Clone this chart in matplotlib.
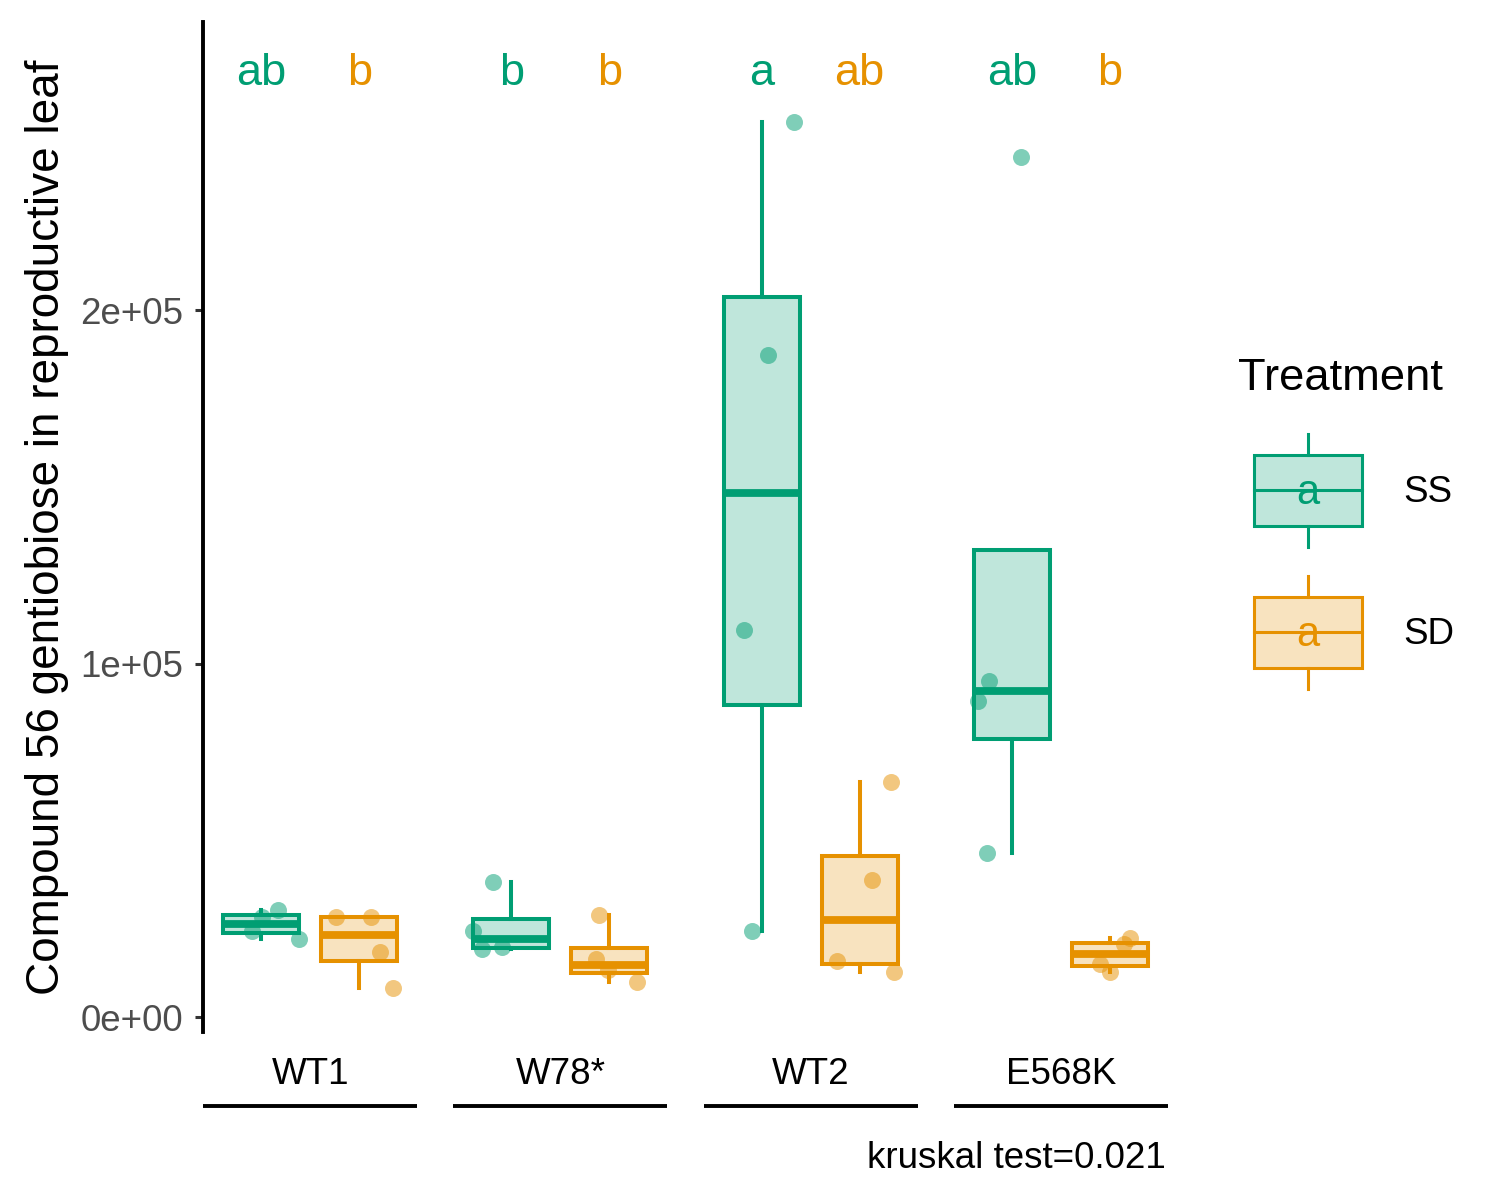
import matplotlib
matplotlib.use("Agg")
import matplotlib.pyplot as plt
import matplotlib.transforms as mtransforms
from matplotlib.colors import to_rgba
from matplotlib.patches import Rectangle

plt.rcParams['font.family'] = ['Liberation Sans', 'DejaVu Sans']

# data (4 plants per genotype x treatment)
genotypes = ['WT1', 'W78*', 'WT2', 'E568K']
treatments = ['SS', 'SD']
colors = {'SS': '#009E73', 'SD': '#E69100'}

ss_values = [
    [22065, 24215, 28260, 30270],
    [19151, 19717, 24328, 38274],
    [24328, 109476, 187270, 253182],
    [46393, 89392, 95049, 243281],
]
sd_values = [
    [8289, 18472, 28204, 28373],
    [9901, 13296, 16407, 28854],
    [12730, 15926, 38755, 66478],
    [12730, 14993, 20651, 22263],
]
# horizontal jitter of the points (fraction of group spacing)
ss_jitter = [
    [0.152, -0.036, 0.004, 0.068],
    [-0.116, -0.036, -0.152, -0.072],
    [-0.04, -0.072, 0.024, 0.128],
    [-0.1, -0.136, -0.092, 0.036],
]
sd_jitter = [
    [0.136, 0.084, -0.092, 0.048],
    [0.112, -0.004, -0.052, -0.04],
    [0.136, -0.092, 0.048, 0.124],
    [0.0, -0.04, 0.056, 0.08],
]
ss_letters = ['ab', 'b', 'a', 'ab']
sd_letters = ['b', 'b', 'ab', 'b']
letter_y = 2.67e5
kruskal_p = 0.021

values = {'SS': ss_values, 'SD': sd_values}
jitter = {'SS': ss_jitter, 'SD': sd_jitter}
letters = {'SS': ss_letters, 'SD': sd_letters}
dodge = {'SS': -0.196, 'SD': 0.196}
box_w = 0.304

fig = plt.figure(figsize=(15, 12), dpi=100)
ax = fig.add_axes([203 / 1500, 168 / 1200, 965 / 1500, 1010 / 1200])

groups = list(range(1, len(genotypes) + 1))
for t in treatments:
    c = colors[t]
    pos = [g + dodge[t] for g in groups]
    bp = ax.boxplot(values[t], positions=pos, widths=box_w, patch_artist=True,
                    showfliers=False, showcaps=False, whis=1.5,
                    boxprops=dict(facecolor=to_rgba(c, 0.25), edgecolor=c, linewidth=2.9),
                    whiskerprops=dict(color=c, linewidth=2.9),
                    medianprops=dict(color=c, linewidth=5.6, solid_capstyle='butt'),
                    manage_ticks=False, zorder=2)
    for i, g in enumerate(pos):
        xs = [g + j for j in jitter[t][i]]
        ax.scatter(xs, values[t][i], s=150, color=c, alpha=0.5, linewidths=0, zorder=3)
        ax.text(g, letter_y, letters[t][i], color=c, fontsize=32.5,
                ha='center', va='center')

ax.set_xlim(0.572, 4.428)
ax.set_ylim(-4243, 281471)

for side in ['top', 'right', 'bottom']:
    ax.spines[side].set_visible(False)
ax.spines['left'].set_linewidth(2.8)
ax.spines['left'].set_color('black')

ax.set_yticks([0, 1e5, 2e5])
ax.set_yticklabels(['0e+00', '1e+05', '2e+05'])
ax.tick_params(axis='y', length=6, width=2.2, color='#333333', pad=8,
               labelsize=26.5, labelcolor='#4D4D4D')
ax.set_xticks(groups)
ax.set_xticklabels(genotypes)
ax.tick_params(axis='x', length=0, pad=18, labelsize=26.5, labelcolor='black')
ax.set_ylabel('Compound 56 gentiobiose in reproductive leaf', fontsize=33, labelpad=8)

# group bracket lines under the labels
trans = mtransforms.blended_transform_factory(ax.transData, ax.transAxes)
for g in groups:
    ax.plot([g - 0.428, g + 0.428], [-0.0733, -0.0733], color='black', lw=2.8,
            transform=trans, clip_on=False, solid_capstyle='butt')

fig.text(1166 / 1500, 1 - 1158 / 1200, f'kruskal test={kruskal_p}', fontsize=26.5,
         ha='right', va='center')

# legend drawn in pixel coordinates
lax = fig.add_axes([0, 0, 1, 1], facecolor='none')
lax.set_xlim(0, 1500)
lax.set_ylim(1200, 0)
lax.axis('off')
lax.text(1238, 378, 'Treatment', fontsize=32.7, ha='left', va='center')
key_tops = {'SS': 455, 'SD': 597}
for t in treatments:
    c = colors[t]
    top = key_tops[t]
    bot = top + 71
    mid = top + 35
    lax.add_patch(Rectangle((1254, top), 108, 71, facecolor=to_rgba(c, 0.25),
                            edgecolor=c, lw=2.2))
    lax.plot([1308, 1308], [top - 21, top], color=c, lw=2.2)
    lax.plot([1308, 1308], [bot, bot + 21], color=c, lw=2.2)
    lax.plot([1254, 1362], [mid, mid], color=c, lw=2.2)
    lax.text(1308, mid + 3, 'a', color=c, fontsize=30, ha='center', va='center')
    lax.text(1403, mid + 2, t, fontsize=26.5, ha='left', va='center')

fig.savefig('out.png', dpi=100)
